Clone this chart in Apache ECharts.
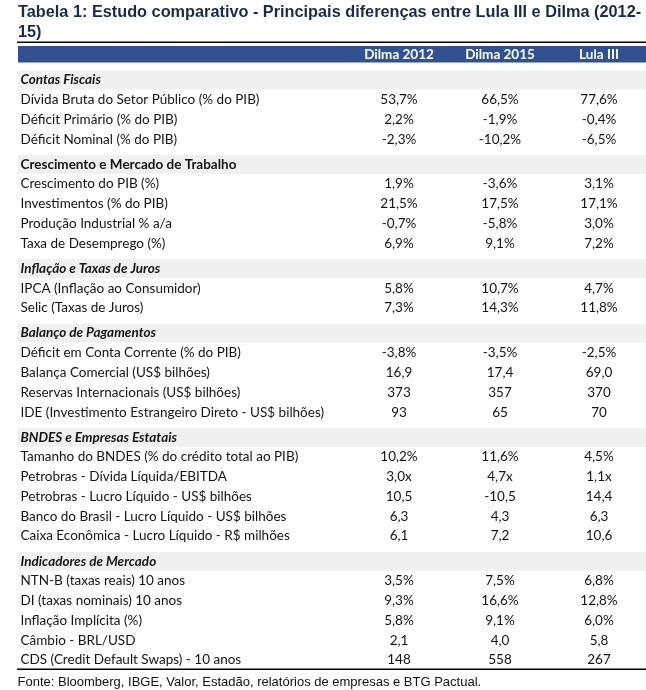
<!DOCTYPE html>
<html><head><meta charset="utf-8">
<script src="https://cdn.jsdelivr.net/npm/echarts@6/dist/echarts.min.js"></script>
<style>html,body{margin:0;padding:0;background:#fff}#c{width:646px;height:690px}</style>
</head><body><div id="c"></div>
<script>
// ---------- DATA ----------
const titleLines = ['Tabela 1: Estudo comparativo - Principais diferenças entre Lula III e Dilma (2012-', '15)'];
const columnHeaders = ['Dilma 2012', 'Dilma 2015', 'Lula III'];
const sections = ['Contas Fiscais', 'Crescimento e Mercado de Trabalho', 'Inflação e Taxas de Juros', 'Balanço de Pagamentos', 'BNDES e Empresas Estatais', 'Indicadores de Mercado'];
const sectionItalic = [true, false, true, true, true, true];
const rowLabels = [
  'Dívida Bruta do Setor Público (% do PIB)', 'Déficit Primário (% do PIB)', 'Déficit Nominal (% do PIB)',
  'Crescimento do PIB (%)', 'Investimentos (% do PIB)', 'Produção Industrial % a/a', 'Taxa de Desemprego (%)',
  'IPCA (Inflação ao Consumidor)', 'Selic (Taxas de Juros)',
  'Déficit em Conta Corrente (% do PIB)', 'Balança Comercial (US$ bilhões)', 'Reservas Internacionais (US$ bilhões)', 'IDE (Investimento Estrangeiro Direto - US$ bilhões)',
  'Tamanho do BNDES (% do crédito total ao PIB)', 'Petrobras - Dívida Líquida/EBITDA', 'Petrobras - Lucro Líquido - US$ bilhões', 'Banco do Brasil - Lucro Líquido - US$ bilhões', 'Caixa Econômica - Lucro Líquido - R$ milhões',
  'NTN-B (taxas reais) 10 anos', 'DI (taxas nominais) 10 anos', 'Inflação Implícita (%)', 'Câmbio - BRL/USD', 'CDS (Credit Default Swaps) - 10 anos'
];
const rowSection = [0,0,0, 1,1,1,1, 2,2, 3,3,3,3, 4,4,4,4,4, 5,5,5,5,5];
const dilma2012 = ['53,7%','2,2%','-2,3%', '1,9%','21,5%','-0,7%','6,9%', '5,8%','7,3%', '-3,8%','16,9','373','93', '10,2%','3,0x','10,5','6,3','6,1', '3,5%','9,3%','5,8%','2,1','148'];
const dilma2015 = ['66,5%','-1,9%','-10,2%', '-3,6%','17,5%','-5,8%','9,1%', '10,7%','14,3%', '-3,5%','17,4','357','65', '11,6%','4,7x','-10,5','4,3','7,2', '7,5%','16,6%','9,1%','4,0','558'];
const lula3     = ['77,6%','-0,4%','-6,5%', '3,1%','17,1%','3,0%','7,2%', '4,7%','11,8%', '-2,5%','69,0','370','70', '4,5%','1,1x','14,4','6,3','10,6', '6,8%','12,8%','6,0%','5,8','267'];
const sourceNote = 'Fonte: Bloomberg, IBGE, Valor, Estadão, relatórios de empresas e BTG Pactual.';

// ---------- LAYOUT ----------
const W = 646, H = 690;
const ROW_PX = 19.76, FIRST_ROW_Y = 80, HEADER_GAP = 0.27, HEAD_U = -1.3;
const COL_X = [399, 500, 599];
const LABEL_X = 20.5, BAND_X0 = 18, BAND_X1 = 646;
const BODY_FONT = 'Lato';
const BODY_SIZE = 13.5;
const TEXT_COLOR = '#141414';
const BLUE = '#30538f';
const GRAY = '#f0f0f0';

const rows = [{ type: 'colhead', u: HEAD_U }];
let u = 0, prevSec = -1;
rowLabels.forEach((lab, i) => {
  const s = rowSection[i];
  if (s !== prevSec) {
    if (prevSec >= 0) u += HEADER_GAP;
    rows.push({ type: 'section', u, text: sections[s], italic: sectionItalic[s] });
    u += 1; prevSec = s;
  }
  rows.push({ type: 'item', u, text: lab, vals: [dilma2012[i], dilma2015[i], lula3[i]] });
  u += 1;
});

function txt(x, y, text, font, fill, align) {
  return { type: 'text', x, y, style: { text, font, fill, align, verticalAlign: 'middle', textAlign: align, textVerticalAlign: 'middle' } };
}

function renderItem(params, api) {
  const r = rows[params.dataIndex];
  const children = [];
  const c = api.coord([0, r.u]);
  const cy = c[1];
  if (r.type === 'colhead') {
    const p0 = api.coord([BAND_X0, r.u - 0.42]);
    const p1 = api.coord([BAND_X1, r.u + 0.42]);
    children.push({ type: 'rect', shape: { x: p0[0], y: p0[1], width: p1[0] - p0[0], height: p1[1] - p0[1] }, style: { fill: BLUE } });
    columnHeaders.forEach((h, k) => {
      children.push(txt(api.coord([COL_X[k], r.u])[0], cy, h, 'bold ' + BODY_SIZE + 'px ' + BODY_FONT, '#ffffff', 'center'));
    });
  } else if (r.type === 'section') {
    const p0 = api.coord([BAND_X0, r.u - 0.48]);
    const p1 = api.coord([BAND_X1, r.u + 0.48]);
    children.push({ type: 'rect', shape: { x: p0[0], y: p0[1], width: p1[0] - p0[0], height: p1[1] - p0[1] }, style: { fill: GRAY } });
    children.push(txt(api.coord([LABEL_X, r.u])[0], cy, r.text, (r.italic ? 'italic ' : '') + 'bold ' + BODY_SIZE + 'px ' + BODY_FONT, TEXT_COLOR, 'left'));
  } else {
    children.push(txt(api.coord([LABEL_X, r.u])[0], cy, r.text, BODY_SIZE + 'px ' + BODY_FONT, TEXT_COLOR, 'left'));
    r.vals.forEach((v, k) => {
      children.push(txt(api.coord([COL_X[k], r.u])[0], cy, v, BODY_SIZE + 'px ' + BODY_FONT, TEXT_COLOR, 'center'));
    });
  }
  return { type: 'group', children };
}

const chart = echarts.init(document.getElementById('c'), null, { renderer: 'canvas' });
chart.setOption({
  animation: false,
  backgroundColor: '#ffffff',
  grid: { left: 0, right: 0, top: 0, bottom: 0 },
  xAxis: { type: 'value', min: 0, max: W, show: false },
  yAxis: { type: 'value', inverse: true, min: -FIRST_ROW_Y / ROW_PX, max: (H - FIRST_ROW_Y) / ROW_PX, show: false },
  series: [{
    type: 'custom',
    renderItem,
    clip: false,
    encode: { x: 0, y: 1 },
    data: rows.map((r, i) => [0, r.u, i])
  }],
  graphic: [
    { type: 'text', left: 18, top: 4.5, style: { text: titleLines[0], font: 'bold 16.3px "Liberation Sans", Arial', fill: '#1a2a4c' } },
    { type: 'text', left: 18, top: 25, style: { text: titleLines[1], font: 'bold 16.3px "Liberation Sans", Arial', fill: '#1a2a4c' } },
    { type: 'rect', left: 17, top: 41.5, shape: { width: 629, height: 1.5 }, style: { fill: '#000' } },
    { type: 'rect', left: 17, top: 668.5, shape: { width: 629, height: 1.5 }, style: { fill: '#000' } },
    { type: 'text', left: 17.5, top: 675.5, style: { text: sourceNote, font: '13px "Liberation Sans", Arial', fill: '#111' } }
  ]
});
</script>
</body></html>
